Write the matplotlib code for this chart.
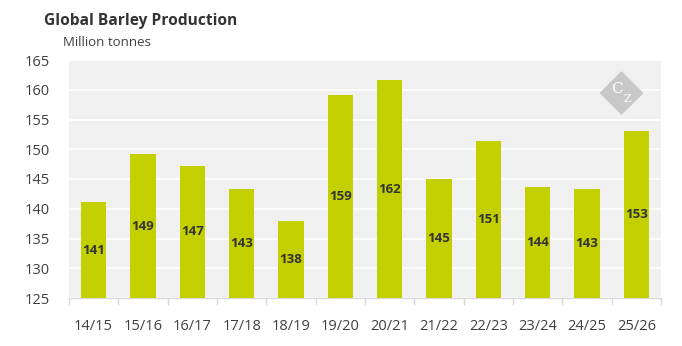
import matplotlib.pyplot as plt
import matplotlib.patches as mpatches

plt.rcParams['font.family'] = ['Open Sans', 'DejaVu Sans']

seasons = ['14/15', '15/16', '16/17', '17/18', '18/19', '19/20',
           '20/21', '21/22', '22/23', '23/24', '24/25', '25/26']
production = [141.1, 149.2, 147.2, 143.3, 137.9, 159.2,
              161.6, 145.0, 151.4, 143.7, 143.3, 153.0]
y_ticks = [125, 130, 135, 140, 145, 150, 155, 160, 165]

bar_color = '#C4CF00'
text_color = '#404040'

fig = plt.figure(figsize=(6.82, 3.46), dpi=100)
ax = fig.add_axes([69 / 682, 48 / 346, 592 / 682, 238 / 346])
ax.set_facecolor('#F0F0F0')

x = range(len(seasons))
bars = ax.bar(x, [v - y_ticks[0] for v in production], bottom=y_ticks[0],
              width=0.51, color=bar_color, zorder=3)

# value labels in the middle of each bar
for xi, v in zip(x, production):
    ax.text(xi, (y_ticks[0] + v) / 2, f'{round(v):.0f}', ha='center', va='center',
            fontsize=9.5, fontweight='bold', color='#333333', zorder=4)

ax.set_xlim(-0.5, len(seasons) - 0.5)
ax.set_ylim(y_ticks[0], y_ticks[-1])
ax.set_yticks(y_ticks)
ax.set_xticks(list(x))
ax.set_xticklabels(seasons)
ax.set_xticks([i - 0.5 for i in range(len(seasons) + 1)], minor=True)
ax.tick_params(axis='x', which='major', length=0, pad=15, labelsize=10.5, labelcolor=text_color)
ax.tick_params(axis='x', which='minor', length=5, color='#D9D9D9', width=1)
ax.tick_params(axis='y', length=0, pad=14, labelsize=10.5, labelcolor=text_color)

ax.grid(True, axis='y', color='white', linewidth=1.2, zorder=1)
ax.set_axisbelow(True)
for s in ['top', 'right', 'left']:
    ax.spines[s].set_visible(False)
ax.spines['bottom'].set_color('#D9D9D9')
ax.spines['bottom'].set_linewidth(1)

fig.text(44 / 682, 1 - 21 / 346, 'Global Barley Production', fontsize=11.2,
         fontweight='bold', color='#333333', va='center', ha='left')
fig.text(63 / 682, 1 - 42 / 346, 'Million tonnes', fontsize=9.5,
         color=text_color, va='center', ha='left')

# logo diamond
cx, cy, r = 621.5, 346 - 93, 21
diamond = mpatches.Polygon([((cx - r) / 682, cy / 346), (cx / 682, (cy + r) / 346),
                            ((cx + r) / 682, cy / 346), (cx / 682, (cy - r) / 346)],
                           closed=True, transform=fig.transFigure, color='#C8C8C8', zorder=1)
fig.patches.append(diamond)
fig.text((cx - 5) / 682, (cy + 4) / 346, 'C', fontsize=11, family='DejaVu Serif',
         color='white', ha='center', va='center', zorder=6)
fig.text((cx + 5.5) / 682, (cy - 6) / 346, 'Z', fontsize=8, family='DejaVu Serif',
         color='white', ha='center', va='center', zorder=6)

fig.savefig('out.png', dpi=100)
